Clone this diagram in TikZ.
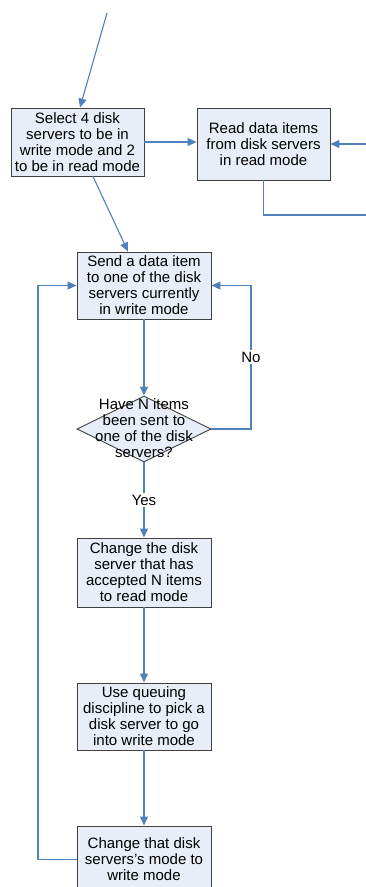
\documentclass[tikz,border=0pt]{standalone}
\usepackage{fontspec}
\setmainfont{Liberation Sans}
\usetikzlibrary{arrows.meta,shapes.geometric}
\definecolor{flowline}{HTML}{4F81BD}
\definecolor{boxfill}{HTML}{E8EEF7}
\definecolor{boxedge}{HTML}{404040}
\tikzset{
  x=1pt, y=-1pt,
  every node/.style={font=\fontsize{15}{16}\selectfont, text=black},
  procbox/.style={rectangle, draw=boxedge, fill=boxfill, line width=0.9pt,
    minimum width=134pt, minimum height=67pt, inner sep=0pt, align=center},
  decbox/.style={diamond, draw=boxedge, fill=boxfill, line width=0.9pt,
    minimum width=134pt, minimum height=66pt, inner sep=0pt},
  flow/.style={draw=flowline, line width=1.1pt,
    -{Triangle[length=9pt,width=8pt]}},
  plainflow/.style={draw=flowline, line width=1.1pt},
  branchlabel/.style={fill=white, inner sep=2pt}
}
\begin{document}
\begin{tikzpicture}
\useasboundingbox (0,0) rectangle (366,887);
\clip (0,0) rectangle (366,887);
\fill[white] (0,0) rectangle (366,887);

% process boxes
\node[procbox, minimum width=133pt, minimum height=68pt] (select) at (77.5,142)
  {Select 4 disk\\servers to be in\\write mode and 2\\to be in read mode};
\node[procbox, minimum width=133pt, minimum height=72pt] (readitems) at (263.5,144)
  {Read data items\\from disk servers\\in read mode};
\node[procbox] (send) at (144,285.5)
  {Send a data item\\to one of the disk\\servers currently\\in write mode};
\node[decbox] (check) at (144,429) {};
\node[align=center, inner sep=0pt] (checktext) at (144,428)
  {Have N items\\been sent to\\one of the disk\\servers?};
\node[procbox, minimum height=69pt] (toread) at (144,572.5)
  {Change the disk\\server that has\\accepted N items\\to read mode};
\node[procbox] (pick) at (144,716.5)
  {Use queuing\\discipline to pick a\\disk server to go\\into write mode};
\node[procbox] (towrite) at (144,859.5)
  {Change that disk\\servers's mode to\\write mode};

% free ends of connectors
\coordinate (entry) at (107,13);
\coordinate (rightin) at (366,144);
\coordinate (rightout) at (366,215);
\coordinate (nocol) at (251,0);
\coordinate (loopcol) at (38,0);

% connectors
\draw[flow] (entry) -- ([xshift=2.5pt]select.north);
\draw[flow] (select.east) -- (select.east -| readitems.west);
\draw[flow] (rightin) -- (readitems.east);
\draw[plainflow] (readitems.south) |- (rightout);
\draw[flow] ([xshift=15.5pt]select.south) -- ([xshift=-16pt]send.north);
\draw[flow] (send.south) -- (check.north);
\draw[flow] (check.east) -- (check.east -| nocol)
  -- node[branchlabel, pos=0.5] {No} (send.east -| nocol) -- (send.east);
\draw[flow] (check.south) -- node[branchlabel, pos=0.5] {Yes} (toread.north);
\draw[flow] (toread.south) -- (pick.north);
\draw[flow] (pick.south) -- (towrite.north);
\draw[flow] (towrite.west) -- (towrite.west -| loopcol) |- (send.west);
\end{tikzpicture}
\end{document}
